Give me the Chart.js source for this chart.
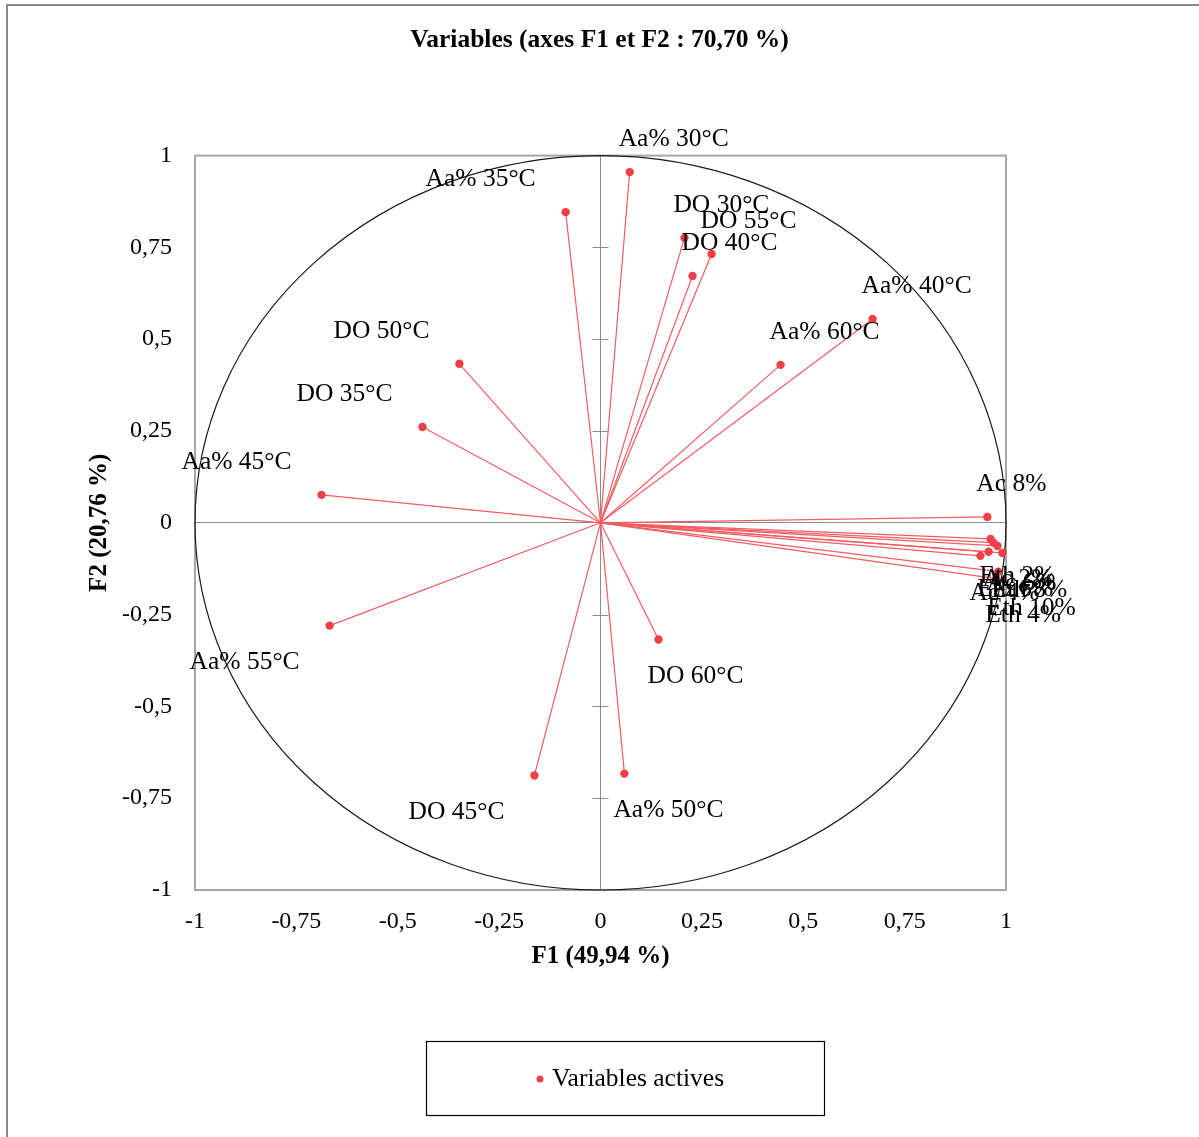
<!DOCTYPE html>
<html>
<head>
<meta charset="utf-8">
<title>Variables (axes F1 et F2 : 70,70 %)</title>
<script src="https://cdn.jsdelivr.net/npm/chart.js@4/dist/chart.umd.min.js"></script>
<style>
  html, body { margin: 0; padding: 0; background: #ffffff; }
  #wrap { width: 1199px; height: 1137px; position: relative; }
</style>
</head>
<body>
<div id="wrap"><canvas id="chart" width="1199" height="1137"></canvas></div>
<script>
// Variable names (correlation circle, PCA on F1/F2)
const variableNames = [
  'Aa% 30°C', 'Aa% 35°C', 'Aa% 40°C', 'Aa% 45°C', 'Aa% 50°C', 'Aa% 55°C', 'Aa% 60°C',
  'DO 30°C', 'DO 35°C', 'DO 40°C', 'DO 45°C', 'DO 50°C', 'DO 55°C', 'DO 60°C',
  'Ac 8%', 'Eth 2%', 'Ac 2%', 'Ac 6%', 'Eth 8%', 'Eth 6%', 'Ac 4%', 'Eth 10%', 'Eth 4%'
];
// Coordinates on the first factor (F1)
const f1Values = [
  0.072, -0.086, 0.671, -0.688, 0.059, -0.668, 0.444,
  0.207, -0.439, 0.227, -0.163, -0.348, 0.274, 0.143,
  0.954, 0.962, 0.969, 0.979, 0.991, 0.957, 0.937, 0.981, 0.976
];
// Coordinates on the second factor (F2)
const f2Values = [
  0.955, 0.846, 0.555, 0.076, -0.683, -0.280, 0.430,
  0.776, 0.261, 0.672, -0.688, 0.433, 0.732, -0.318,
  0.016, -0.044, -0.054, -0.063, -0.082, -0.079, -0.090, -0.133, -0.152
];
const axisTicks = [-1, -0.75, -0.5, -0.25, 0, 0.25, 0.5, 0.75, 1];

const chartTitle = 'Variables (axes F1 et F2 : 70,70 %)';
const xTitle = 'F1 (49,94 %)';
const yTitle = 'F2 (20,76 %)';
const legendText = 'Variables actives';

const SERIF = '"Liberation Serif", "Times New Roman", serif';
const RED = 'rgb(238, 64, 70)';
const RED_LINE = 'rgb(242, 92, 96)';
const GREY = '#a6a6a6';

const fmt = v => String(Math.round(v * 100) / 100).replace('.', ',');

// Plot-area frame, zero-axis ticks, unit circle, vectors and labels
const biplotPlugin = {
  id: 'biplot',
  beforeDatasetsDraw(chart) {
    const { ctx, chartArea: a, scales: { x, y } } = chart;
    const x0 = x.getPixelForValue(0), y0 = y.getPixelForValue(0);
    ctx.save();
    // frame of the plot area
    ctx.strokeStyle = GREY;
    ctx.lineWidth = 2;
    ctx.strokeRect(a.left, a.top, a.right - a.left, a.bottom - a.top);
    // tick marks crossing the vertical zero axis
    ctx.strokeStyle = '#8c8c8c';
    ctx.lineWidth = 1;
    axisTicks.forEach(t => {
      if (t === 0 || Math.abs(t) === 1) return;
      const py = Math.round(y.getPixelForValue(t)) + 0.5;
      ctx.beginPath(); ctx.moveTo(x0 - 8, py); ctx.lineTo(x0 + 8, py); ctx.stroke();
    });
    // correlation circle of radius 1
    const rx = x.getPixelForValue(1) - x0;
    const ry = y0 - y.getPixelForValue(1);
    ctx.strokeStyle = '#1a1a1a';
    ctx.lineWidth = 1.2;
    ctx.beginPath();
    ctx.ellipse(x0, y0, rx, ry, 0, 0, Math.PI * 2);
    ctx.stroke();
    // vectors from the origin to each variable
    ctx.strokeStyle = RED_LINE;
    ctx.lineWidth = 1.2;
    f1Values.forEach((v, i) => {
      ctx.beginPath();
      ctx.moveTo(x0, y0);
      ctx.lineTo(x.getPixelForValue(v), y.getPixelForValue(f2Values[i]));
      ctx.stroke();
    });
    ctx.restore();
  },
  afterDatasetsDraw(chart) {
    const { ctx, scales: { x, y } } = chart;
    ctx.save();
    ctx.font = '25.5px ' + SERIF;
    ctx.fillStyle = '#000';
    ctx.textBaseline = 'middle';
    variableNames.forEach((name, i) => {
      const px = x.getPixelForValue(f1Values[i]);
      const py = y.getPixelForValue(f2Values[i]);
      const ly = f2Values[i] >= 0 ? py - 33 : py + 37;
      if (f1Values[i] >= 0) { ctx.textAlign = 'left'; ctx.fillText(name, px - 11, ly); }
      else { ctx.textAlign = 'right'; ctx.fillText(name, px - 30, ly); }
    });
    ctx.restore();
  },
  afterDraw(chart) {
    const { ctx } = chart;
    ctx.save();
    // outer frame
    ctx.strokeStyle = '#8c8c8c';
    ctx.lineWidth = 2;
    ctx.beginPath();
    ctx.moveTo(7, chart.height); ctx.lineTo(7, 5); ctx.lineTo(chart.width, 5);
    ctx.stroke();
    // legend box
    const lb = { left: 426, top: 1041, width: 398, height: 74 };
    ctx.strokeStyle = '#000';
    ctx.lineWidth = 1.2;
    ctx.strokeRect(lb.left + 0.5, lb.top + 0.5, lb.width, lb.height);
    const cy = lb.top + lb.height / 2 + 1;
    ctx.fillStyle = RED;
    ctx.beginPath(); ctx.arc(540, cy, 3.5, 0, Math.PI * 2); ctx.fill();
    ctx.fillStyle = '#000';
    ctx.font = '25.5px ' + SERIF;
    ctx.textAlign = 'left';
    ctx.textBaseline = 'middle';
    ctx.fillText(legendText, 552, cy);
    ctx.restore();
  }
};

const points = f1Values.map((v, i) => ({ x: v, y: f2Values[i] }));

const zeroLine = c => (c.tick && c.tick.value === 0 ? '#8c8c8c' : 'rgba(0,0,0,0)');

new Chart(document.getElementById('chart'), {
  type: 'scatter',
  data: {
    datasets: [{
      label: legendText,
      data: points,
      backgroundColor: RED,
      borderWidth: 0,
      pointRadius: 4.2,
      pointHoverRadius: 4.2,
      clip: false
    }]
  },
  options: {
    responsive: false,
    animation: false,
    events: [],
    layout: { padding: { left: 0, right: 0, top: 0, bottom: 96 } },
    plugins: {
      legend: { display: false },
      tooltip: { enabled: false },
      title: {
        display: true,
        text: chartTitle,
        color: '#000',
        font: { family: SERIF, size: 25.5, weight: 'bold' },
        padding: { top: 25, bottom: 100 }
      }
    },
    scales: {
      x: {
        type: 'linear',
        min: -1, max: 1,
        afterBuildTicks: s => { s.ticks = axisTicks.map(v => ({ value: v })); },
        afterFit: s => { s.height = 151; },
        grid: { drawTicks: false, tickLength: 0, lineWidth: 1, color: zeroLine },
        border: { display: false },
        ticks: {
          padding: 17,
          color: '#000',
          font: { family: SERIF, size: 24 },
          maxRotation: 0,
          callback: v => fmt(v)
        },
        title: {
          display: true,
          text: xTitle,
          color: '#000',
          font: { family: SERIF, size: 25, weight: 'bold' },
          padding: { top: 0, bottom: 69 }
        }
      },
      y: {
        type: 'linear',
        min: -1, max: 1,
        afterBuildTicks: s => { s.ticks = axisTicks.map(v => ({ value: v })); },
        afterFit: s => { s.width = 195; },
        grid: { drawTicks: false, tickLength: 0, lineWidth: 1, color: zeroLine },
        border: { display: false },
        ticks: {
          padding: 23,
          color: '#000',
          font: { family: SERIF, size: 24 },
          callback: v => fmt(v)
        },
        title: {
          display: true,
          text: yTitle,
          color: '#000',
          font: { family: SERIF, size: 25, weight: 'bold' },
          padding: { top: 85, bottom: 0 }
        }
      },
      // empty right-hand margin of the plot
      yMargin: {
        type: 'linear',
        position: 'right',
        min: -1, max: 1,
        afterFit: s => { s.width = 193; },
        grid: { display: false, drawTicks: false },
        border: { display: false },
        ticks: { display: false }
      }
    }
  },
  plugins: [biplotPlugin]
});
</script>
</body>
</html>
